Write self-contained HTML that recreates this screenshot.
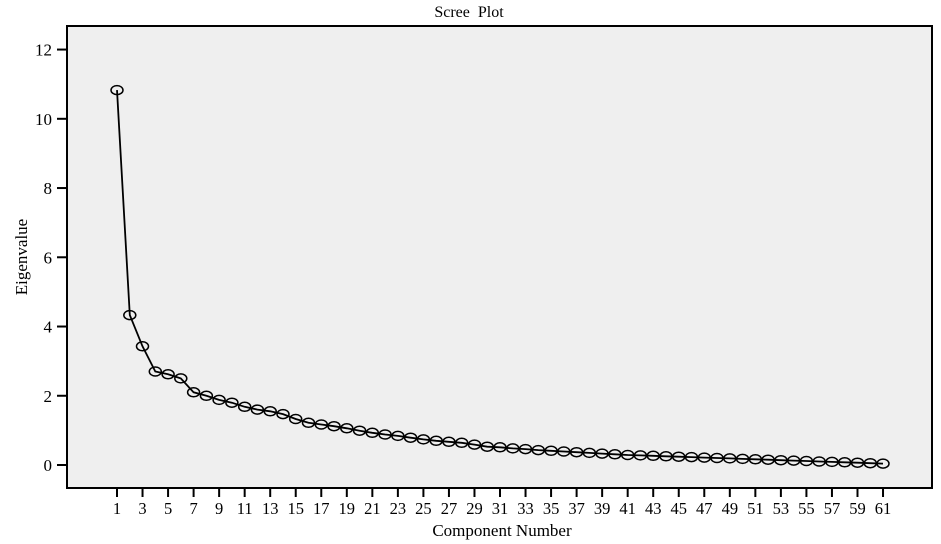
<!DOCTYPE html>
<html><head><meta charset="utf-8"><style>
html,body{margin:0;padding:0;background:#fff;}
svg{display:block;font-family:"Liberation Serif",serif;}
</style></head><body>
<svg id="s" width="941" height="544" viewBox="0 0 941 544" xmlns="http://www.w3.org/2000/svg">
<rect x="0" y="0" width="941" height="544" fill="#fff"/>
<rect x="67" y="26" width="865" height="462" fill="#efefef" stroke="#000" stroke-width="2"/>
<text x="469" y="17" font-size="16" text-anchor="middle" xml:space="preserve">Scree  Plot</text>
<text x="502" y="536" font-size="17" text-anchor="middle">Component Number</text>
<text transform="translate(27,257) rotate(-90)" font-size="17" text-anchor="middle">Eigenvalue</text>
<g id="g"></g>
</svg>
<script>
var g=document.getElementById('g'),h='';
function Y(v){return 465-v*34.62;}
function X(i){return 117+(i-1)*12.767;}
for(var v=0;v<=12;v+=2){var y=Y(v);h+='<line x1="57" y1="'+y+'" x2="67" y2="'+y+'" stroke="#000" stroke-width="2"/><text x="52" y="'+(y+6)+'" font-size="17" text-anchor="end">'+v+'</text>';}
for(var i=1;i<=61;i+=2){var x=X(i);h+='<line x1="'+x+'" y1="488" x2="'+x+'" y2="497" stroke="#000" stroke-width="2"/><text x="'+x+'" y="514" font-size="16.5" text-anchor="middle">'+i+'</text>';}
var d=[10.83,4.33,3.43,2.7,2.62,2.5,2.1,2.0,1.88,1.8,1.68,1.6,1.55,1.47,1.33,1.22,1.17,1.12,1.06,0.99,0.93,0.88,0.84,0.79,0.74,0.7,0.67,0.64,0.59,0.53,0.51,0.48,0.46,0.43,0.41,0.39,0.37,0.35,0.33,0.31,0.29];
while(d.length<61){var k=d.length;d.push(0.29-(k-40)*0.0125);}
var p='';for(var i=0;i<61;i++){p+=(i?'L':'M')+X(i+1).toFixed(1)+' '+Y(d[i]).toFixed(1);}
h+='<path d="'+p+'" fill="none" stroke="#000" stroke-width="1.8"/>';
for(var i=0;i<61;i++){h+='<ellipse cx="'+X(i+1).toFixed(1)+'" cy="'+Y(d[i]).toFixed(1)+'" rx="6" ry="4.5" fill="none" stroke="#000" stroke-width="1.5"/>';}
g.innerHTML=h;
</script>
</body></html>
